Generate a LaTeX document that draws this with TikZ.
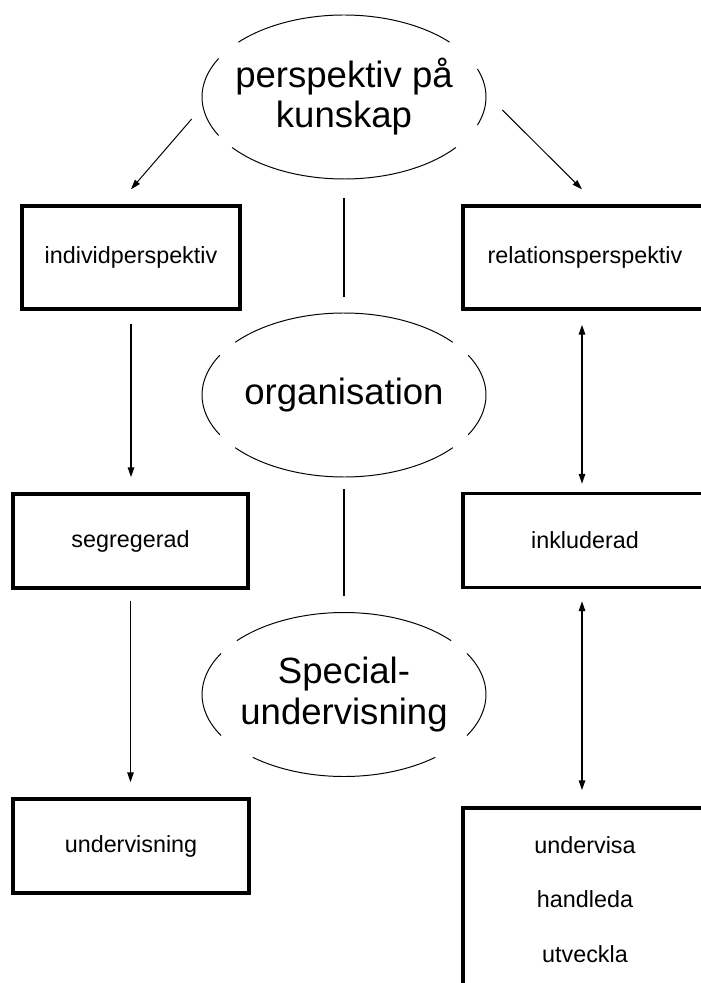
\documentclass[tikz,border=0pt]{standalone}
\usepackage{fontspec}
\setmainfont{Liberation Sans}
\usetikzlibrary{arrows.meta, positioning, calc}
\tikzset{
  % Box and oval styles
  box/.style={rectangle, draw=black, line width=2.4pt, minimum width=#1, minimum height=2.35cm, text centered, font=\fontsize{16.6pt}{20pt}\selectfont},
  box/.default={5.9cm},
  oval/.style={rectangle, inner sep=0pt, minimum width=7.1cm, minimum height=4.1cm, align=center, font=\fontsize{26pt}{28.5pt}\selectfont},
  rim/.style={line width=0.7pt},
  % Connector styles
  arrow/.style={-{Triangle[length=7pt, width=4.5pt]}, line width=1pt},
  thinarrow/.style={-{Triangle[length=7pt, width=4.5pt]}, line width=0.7pt},
  twoway/.style={{Triangle[length=7pt, width=4.5pt]}-{Triangle[length=7pt, width=4.5pt]}, line width=1.1pt},
  link/.style={line width=0.9pt},
}
\begin{document}
\begin{tikzpicture}[x=0.025cm, y=0.025cm]
    \useasboundingbox (0,0) rectangle (701,-983);

    % Ovals in the middle column
    \node[oval] (persp) at (344,-97) {perspektiv på\\kunskap};
    \node[oval] (org) at (344,-395) {organisation};
    \node[oval, font=\fontsize{26pt}{29pt}\selectfont] (spec) at (344,-694.5) {Special-\\undervisning};

    % Oval outlines, drawn in four pieces
    \foreach \n/\t/\l/\r/\b in {persp/42/28/20/218, org/40/29/29/220, spec/41/30/30/230} {
      \draw[rim] (\n.center) ++(\t:142 and 82) arc[start angle=\t, end angle=180-\t, x radius=142, y radius=82];
      \draw[rim] (\n.center) ++(180-\l:142 and 82) arc[start angle=180-\l, end angle=180+\l, x radius=142, y radius=82];
      \draw[rim] (\n.center) ++(\b:142 and 82) arc[start angle=\b, end angle=540-\b, x radius=142, y radius=82];
      \draw[rim] (\n.center) ++(-\r:142 and 82) arc[start angle=-\r, end angle=\r, x radius=142, y radius=82];
    }

    % Left column
    \node[box=5.45cm, minimum height=2.575cm] (individ) at (131,-257.5) {individperspektiv};
    \node[box=5.875cm] (segreg) at (130.5,-541) {segregerad};
    \node[box] (underv) at (131,-846) {undervisning};

    % Right column
    \node[box=6.1cm, minimum height=2.575cm] (relation) at (585,-257.5) {relationsperspektiv};
    \node[box=6.1cm] (inkl) at (585,-540.5) {inkluderad};
    \node[box=6.1cm, minimum height=4.575cm, align=center, font=\fontsize{16.6pt}{39pt}\selectfont] (tasks) at (585,-899.5) {undervisa\\handleda\\utveckla};

    % Arrows
    \draw[thinarrow] ([xshift=-0.25cm, yshift=-0.55cm]persp.west) -- ([yshift=0.375cm]individ.north);
    \draw[thinarrow] ([xshift=0.4cm, yshift=-0.325cm]persp.east) -- ([xshift=-0.075cm, yshift=0.375cm]relation.north);
    \draw[arrow, shorten <=0.325cm, shorten >=0.375cm] (individ.south) -- (individ.south |- segreg.north);
    \draw[arrow, shorten <=0.275cm, shorten >=0.375cm] (segreg.south) -- (segreg.south |- underv.north);
    \draw[twoway, shorten <=0.35cm, shorten >=0.2cm] ([xshift=-0.075cm]relation.south) -- ([xshift=-0.075cm]relation.south |- inkl.north);
    \draw[twoway, shorten <=0.3cm, shorten >=0.4cm] ([xshift=-0.075cm]inkl.south) -- ([xshift=-0.075cm]inkl.south |- tasks.north);

    % Plain links between the ovals
    \draw[link, shorten <=0.475cm, shorten >=0.4cm] (persp.south) -- (org.north);
    \draw[link, shorten <=0.3cm, shorten >=0.4cm] (org.south) -- (spec.north);
\end{tikzpicture}
\end{document}
